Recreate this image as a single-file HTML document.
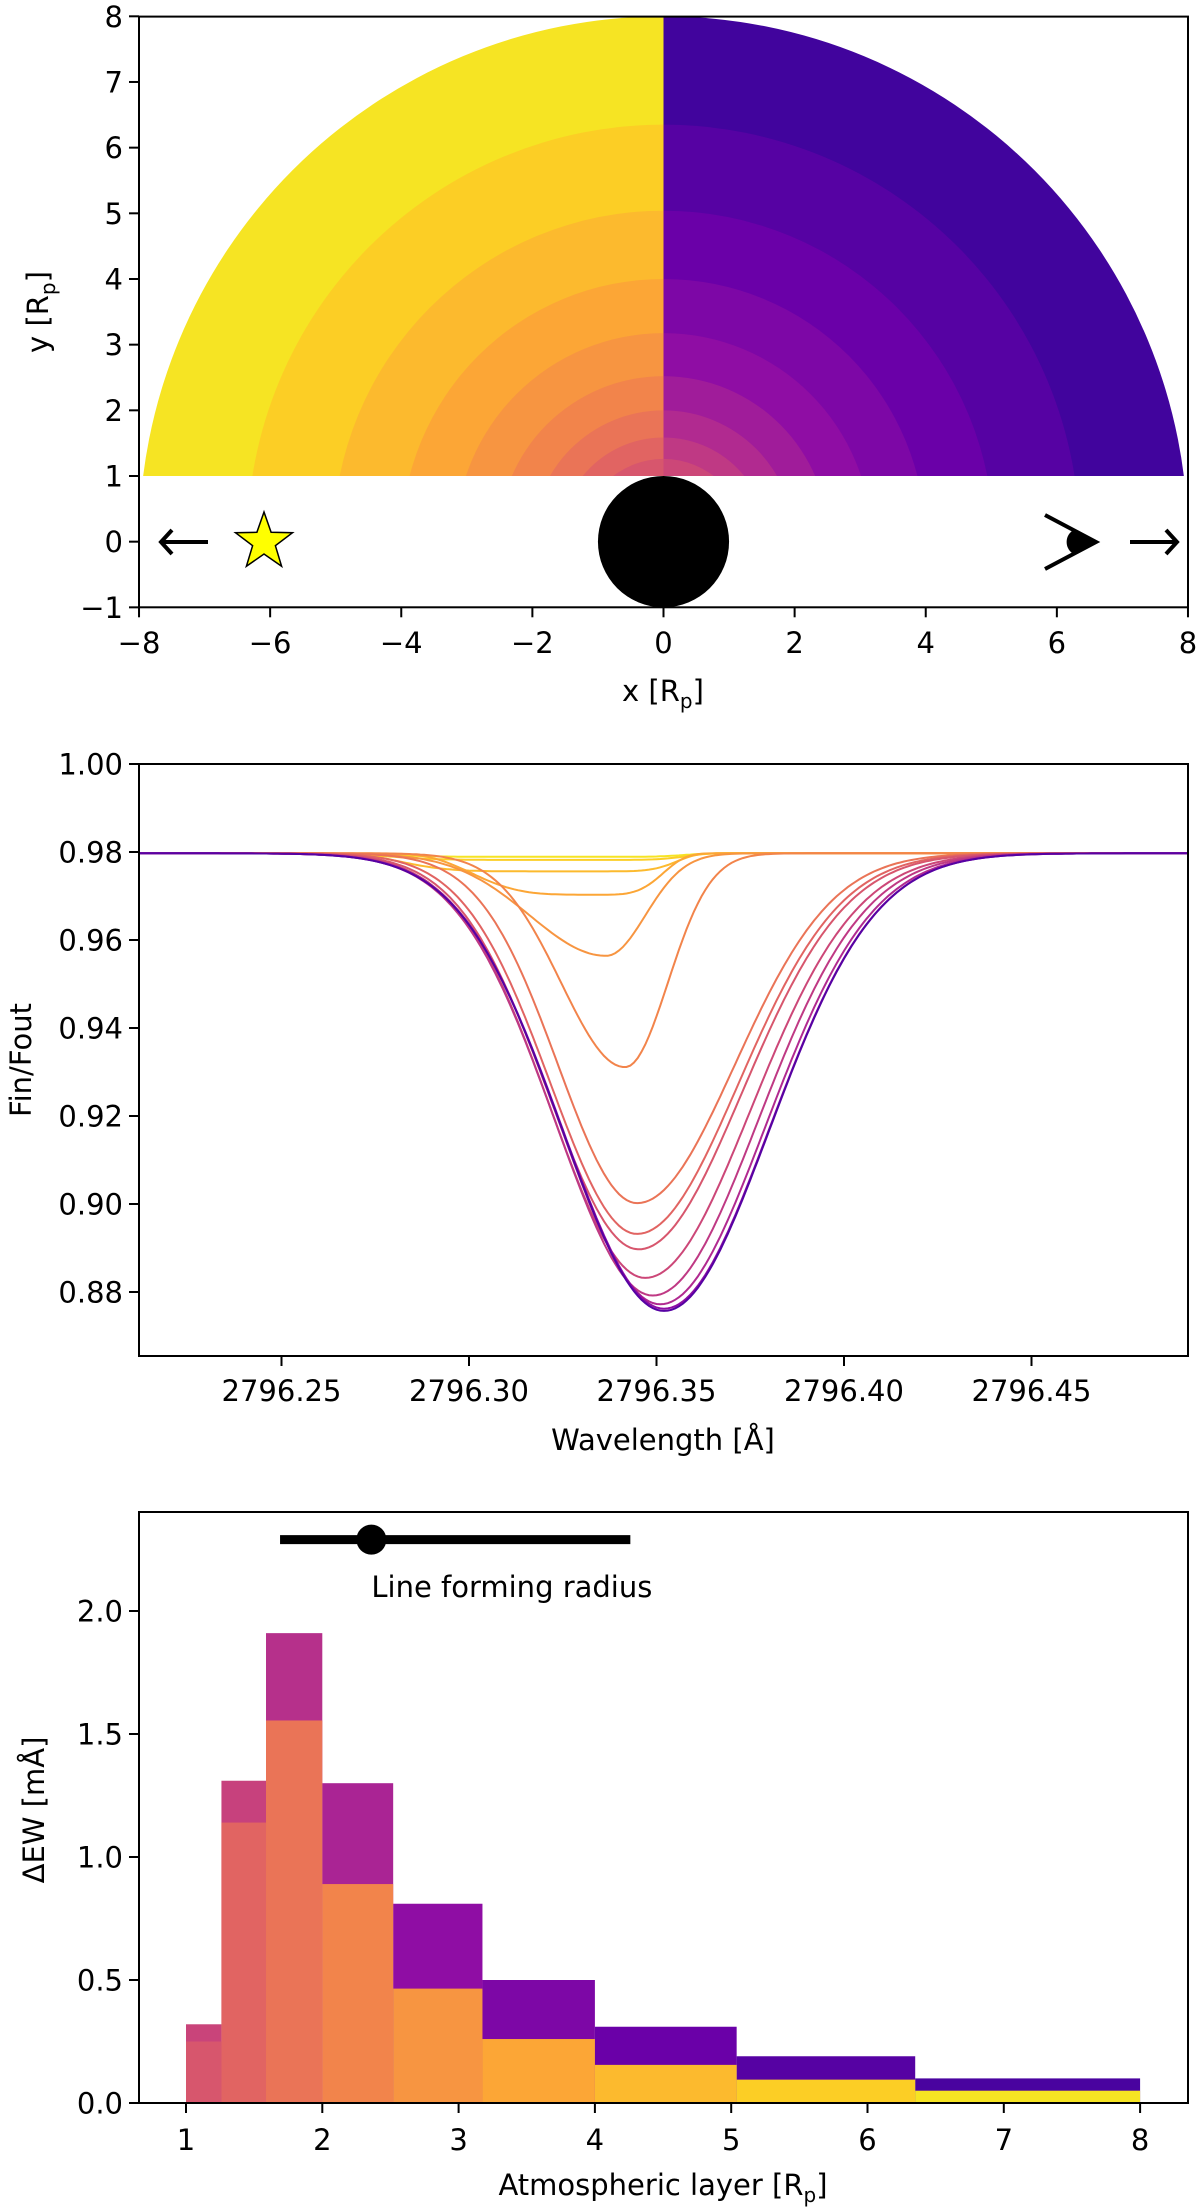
<!DOCTYPE html>
<html><head><meta charset="utf-8">
<style>
html,body{margin:0;padding:0;background:#fff;}
svg{display:block;font-family:"DejaVu Sans","Liberation Sans",sans-serif;}
</style></head>
<body>
<svg id="fig" width="1200" height="2208" viewBox="0 0 1200 2208" xmlns="http://www.w3.org/2000/svg">
<defs>
<clipPath id="clipL"><rect x="139" y="16" width="524.5" height="460"/></clipPath>
<clipPath id="clipR"><rect x="663.5" y="16" width="525" height="460"/></clipPath>
<clipPath id="clipP2"><rect x="139" y="764" width="1049" height="592"/></clipPath>
</defs>
<g id="p1"></g>
<g id="p2"></g>
<g id="p3"></g>
</svg>
<script>
// ---------- data ----------
const ringRadii = [1, 1.26, 1.587, 2, 2.52, 3.175, 4, 5.04, 6.35, 8];
const ringLeftCmap = [0.55, 0.60, 0.65, 0.70, 0.75, 0.80, 0.85, 0.90, 0.95];
const ringRightCmap = [0.50, 0.45, 0.40, 0.35, 0.30, 0.25, 0.20, 0.15, 0.10];
const p1XTicks = [-8, -6, -4, -2, 0, 2, 4, 6, 8];
const p1YTicks = [-1, 0, 1, 2, 3, 4, 5, 6, 7, 8];

const lineCenters = [0.330, 0.330, 0.330, 0.334, 0.3366, 0.3416, 0.3448, 0.3448, 0.3452, 0.347, 0.349, 0.351, 0.352, 0.352];
const lineDepths  = [0.0008, 0.0015, 0.0041, 0.0094, 0.0233, 0.0486, 0.0795, 0.0865, 0.090, 0.0965, 0.1005, 0.1025, 0.1035, 0.104];
const lineSigmaL  = [0.045, 0.045, 0.042, 0.030, 0.0204, 0.017, 0.021, 0.023, 0.024, 0.025, 0.026, 0.0265, 0.027, 0.027];
const lineSigmaR  = [0.024, 0.024, 0.022, 0.016, 0.0104, 0.0114, 0.026, 0.027, 0.0275, 0.028, 0.028, 0.028, 0.028, 0.028];
const lineShape   = [6, 6, 6, 4, 2, 2, 2, 2, 2, 2, 2, 2, 2, 2];
const lineCmap    = [0.95, 0.90, 0.85, 0.80, 0.75, 0.70, 0.65, 0.60, 0.55, 0.50, 0.45, 0.40, 0.30, 0.15];
const continuum = 0.9797;
const p2XTicks = [2796.25, 2796.30, 2796.35, 2796.40, 2796.45];
const p2XTickLabels = ["2796.25", "2796.30", "2796.35", "2796.40", "2796.45"];
const p2YTicks = [0.88, 0.90, 0.92, 0.94, 0.96, 0.98, 1.00];
const p2YTickLabels = ["0.88", "0.90", "0.92", "0.94", "0.96", "0.98", "1.00"];

const binEdges = [1, 1.26, 1.587, 2, 2.52, 3.175, 4, 5.04, 6.35, 8];
const totalEW = [0.32, 1.31, 1.91, 1.30, 0.81, 0.50, 0.31, 0.19, 0.10];
const blueEW  = [0.25, 1.14, 1.555, 0.89, 0.465, 0.26, 0.155, 0.095, 0.05];
const backCmap = [0.49, 0.48, 0.42, 0.38, 0.30, 0.25, 0.20, 0.15, 0.12];
const frontCmap = [0.55, 0.60, 0.65, 0.70, 0.75, 0.80, 0.85, 0.90, 0.95];
const lfrCenter = 2.36, lfrLow = 1.69, lfrHigh = 4.26, lfrY = 2.29;
const p3XTicks = [1, 2, 3, 4, 5, 6, 7, 8];
const p3YTicks = [0, 0.5, 1.0, 1.5, 2.0];
const p3YTickLabels = ["0.0", "0.5", "1.0", "1.5", "2.0"];

// ---------- helpers ----------
const NS = "http://www.w3.org/2000/svg";
const plasmaStops = ["#0d0887","#41049d","#6a00a8","#8f0da4","#b12a90","#cc4778","#e16462","#f2844b","#fca636","#fcce25","#f0f921"];
function hex2rgb(h){return [parseInt(h.slice(1,3),16),parseInt(h.slice(3,5),16),parseInt(h.slice(5,7),16)];}
function plasma(t){
  t=Math.max(0,Math.min(1,t)); const f=t*10; const i=Math.min(9,Math.floor(f)); const u=f-i;
  const a=hex2rgb(plasmaStops[i]), b=hex2rgb(plasmaStops[i+1]);
  return "rgb("+a.map((v,k)=>Math.round(v+(b[k]-v)*u)).join(",")+")";
}
function el(tag, attrs, parent){
  const e=document.createElementNS(NS,tag);
  for(const k in attrs) e.setAttribute(k, attrs[k]);
  parent.appendChild(e); return e;
}
function txt(parent, x, y, s, anchor, size){
  const t=el("text",{x:x,y:y,"text-anchor":anchor||"middle","font-size":size||29,fill:"#000"},parent);
  t.textContent=s; return t;
}
const TICK=10;

// ---------- panel 1 ----------
const p1=document.getElementById("p1");
const s1x = x => 663.5 + x*65.56;
const s1y = y => 476 - (y-1)*65.67;
for(let k=ringRadii.length-1;k>=1;k--){
  const r=ringRadii[k];
  const left=el("ellipse",{cx:s1x(0),cy:s1y(0),rx:r*65.56,ry:r*65.67,fill:plasma(ringLeftCmap[k-1]),"clip-path":"url(#clipL)"},p1);
  
  
  const right=el("ellipse",{cx:s1x(0),cy:s1y(0),rx:r*65.56,ry:r*65.67,fill:plasma(ringRightCmap[k-1]),"clip-path":"url(#clipR)"},p1);
  
  
}
const planet=el("ellipse",{cx:s1x(0),cy:s1y(0),rx:65.56,ry:65.67,fill:"#000"},p1);


// star
(function(){
  const cx=264, cy=542, R=30, r=12; let pts=[];
  for(let i=0;i<10;i++){const a=-Math.PI/2+i*Math.PI/5; const rr=i%2?r:R; pts.push((cx+rr*Math.cos(a)).toFixed(1)+","+(cy+rr*Math.sin(a)).toFixed(1));}
  const s=el("polygon",{points:pts.join(" "),fill:"#ffff00",stroke:"#000","stroke-width":1.5},p1);
  
  
})();
// arrows
const la=el("path",{d:"M208,542 L162,542 M172,530 L161,542 L172,554",stroke:"#000","stroke-width":4,fill:"none"},p1);


const ra=el("path",{d:"M1130,542 L1176,542 M1166,530 L1177,542 L1166,554",stroke:"#000","stroke-width":4,fill:"none"},p1);


const eye=el("g",{},p1);


el("path",{d:"M1045,515 L1096,542 L1045,569",stroke:"#000","stroke-width":4,fill:"none"},eye);
el("path",{d:"M1074,530 A12,13 0 0 0 1074,554 L1096,542 Z",fill:"#000"},eye);
// axes
const ax1=el("rect",{x:139,y:16.6,width:1049,height:590.7,fill:"none",stroke:"#000","stroke-width":2},p1);


p1XTicks.forEach(v=>{
  el("line",{x1:s1x(v),x2:s1x(v),y1:607.3,y2:607.3+TICK,stroke:"#000","stroke-width":2},p1);
  const t=txt(p1,s1x(v),653,(v<0?"\u2212":"")+Math.abs(v));
  
  
});
p1YTicks.forEach(v=>{
  el("line",{x1:139-TICK,x2:139,y1:s1y(v),y2:s1y(v),stroke:"#000","stroke-width":2},p1);
  const t=txt(p1,123,s1y(v)+10.5,(v<0?"\u2212":"")+Math.abs(v),"end");
  
  
});
(function(){
  const t=el("text",{x:663,y:701,"text-anchor":"middle","font-size":29},p1);
  t.innerHTML='x [R<tspan font-size="20" dy="7">p</tspan><tspan dy="-7">]</tspan>';
  
  
  const y=el("text",{x:0,y:0,"text-anchor":"middle","font-size":29,transform:"translate(48,312) rotate(-90)"},p1);
  y.innerHTML='y [R<tspan font-size="20" dy="7">p</tspan><tspan dy="-7">]</tspan>';
  
  
})();

// ---------- panel 2 ----------
const p2=document.getElementById("p2");
const s2x = l => 469 + (l-2796.30)*3750;
const s2y = v => 764 + (1-v)*4400;
const gLines=el("g",{"clip-path":"url(#clipP2)"},p2);
for(let i=0;i<lineCenters.length;i++){
  const c=2796+lineCenters[i]; let d="";
  for(let lam=2796.21; lam<=2796.495; lam+=0.001){
    const dx=lam-c; const s=dx<0?lineSigmaL[i]:lineSigmaR[i];
    const p=lineShape[i];
    const prof = p===2 ? Math.exp(-dx*dx/(2*s*s)) : Math.exp(-Math.pow(Math.abs(dx)/(s*1.2),p));
    const v=continuum-lineDepths[i]*prof;
    d+=(d?"L":"M")+s2x(lam).toFixed(1)+","+s2y(v).toFixed(1);
  }
  const path=el("path",{d:d,fill:"none",stroke:plasma(lineCmap[i]),"stroke-width":2},gLines);
  
  
}
const ax2=el("rect",{x:139,y:764,width:1049,height:592,fill:"none",stroke:"#000","stroke-width":2},p2);


p2XTicks.forEach((v,i)=>{
  el("line",{x1:s2x(v),x2:s2x(v),y1:1356,y2:1356+TICK,stroke:"#000","stroke-width":2},p2);
  const t=txt(p2,s2x(v),1401,p2XTickLabels[i]);
  
  
});
p2YTicks.forEach((v,i)=>{
  el("line",{x1:139-TICK,x2:139,y1:s2y(v),y2:s2y(v),stroke:"#000","stroke-width":2},p2);
  const t=txt(p2,123,s2y(v)+10.5,p2YTickLabels[i],"end");
  
  
});
(function(){
  const t=txt(p2,663,1450,"Wavelength [\u00c5]");
  
  
  const y=el("text",{x:0,y:0,"text-anchor":"middle","font-size":29,transform:"translate(31,1060) rotate(-90)"},p2);
  y.textContent="Fin/Fout";
  
  
})();

// ---------- panel 3 ----------
const p3=document.getElementById("p3");
const s3x = x => 186 + (x-1)*136.3;
const s3y = v => 2103 - v*246;
for(let i=0;i<totalEW.length;i++){
  const x0=s3x(binEdges[i]), x1=s3x(binEdges[i+1]);
  const b=el("rect",{x:x0,y:s3y(totalEW[i]),width:x1-x0,height:s3y(0)-s3y(totalEW[i]),fill:plasma(backCmap[i])},p3);
  
  
}
for(let i=0;i<blueEW.length;i++){
  const x0=s3x(binEdges[i]), x1=s3x(binEdges[i+1]);
  const b=el("rect",{x:x0,y:s3y(blueEW[i]),width:x1-x0,height:s3y(0)-s3y(blueEW[i]),fill:plasma(frontCmap[i])},p3);
  
  
}
(function(){
  const g=el("g",{},p3);
  
  
  el("line",{x1:s3x(lfrLow),x2:s3x(lfrHigh),y1:s3y(lfrY),y2:s3y(lfrY),stroke:"#000","stroke-width":9},g);
  el("circle",{cx:s3x(lfrCenter),cy:s3y(lfrY),r:15,fill:"#000"},g);
  const t=txt(p3,s3x(lfrCenter),1597,"Line forming radius","start");
  
  
})();
const ax3=el("rect",{x:139,y:1512,width:1049,height:591,fill:"none",stroke:"#000","stroke-width":2},p3);


p3XTicks.forEach(v=>{
  el("line",{x1:s3x(v),x2:s3x(v),y1:2103,y2:2103+TICK,stroke:"#000","stroke-width":2},p3);
  const t=txt(p3,s3x(v),2150,String(v));
  
  
});
p3YTicks.forEach((v,i)=>{
  el("line",{x1:139-TICK,x2:139,y1:s3y(v),y2:s3y(v),stroke:"#000","stroke-width":2},p3);
  const t=txt(p3,123,s3y(v)+10.5,p3YTickLabels[i],"end");
  
  
});
(function(){
  const t=el("text",{x:663,y:2195,"text-anchor":"middle","font-size":29},p3);
  t.innerHTML='Atmospheric layer [R<tspan font-size="20" dy="7">p</tspan><tspan dy="-7">]</tspan>';
  
  
  const y=el("text",{x:0,y:0,"text-anchor":"middle","font-size":29,transform:"translate(44,1810) rotate(-90)"},p3);
  y.textContent="\u0394EW [m\u00c5]";
  
  
})();
</script>
</body></html>
